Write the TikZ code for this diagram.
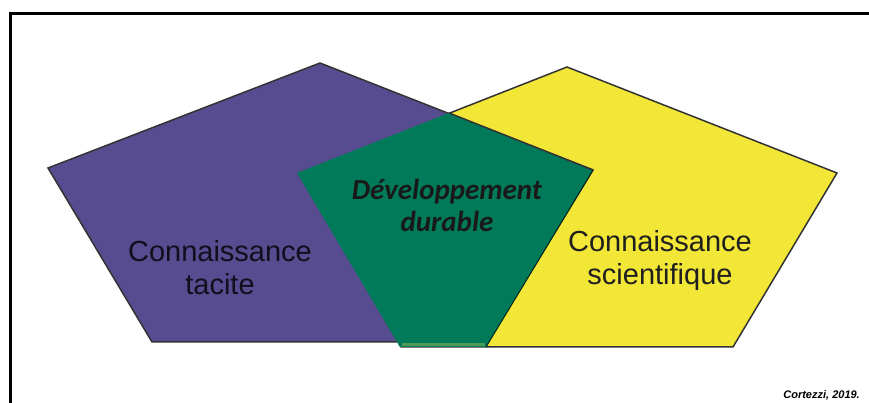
\documentclass[tikz,border=0pt]{standalone}
\usepackage{fontspec}
\setmainfont{Liberation Sans}
\newfontfamily\calib{Carlito}
\definecolor{purp}{HTML}{574C8F}
\definecolor{yell}{HTML}{F2E637}
\definecolor{gree}{HTML}{007A59}
\definecolor{greestrip}{HTML}{4B9A55}
\definecolor{edgec}{HTML}{333333}
\begin{document}
\begin{tikzpicture}[x=1pt,y=1pt,
  pent/.style={draw=edgec,line width=1.5pt,line join=miter},
  biglabel/.style={align=center,font=\fontsize{29}{33}\selectfont,inner sep=0pt},
  greenlabel/.style={align=center,font=\calib\bfseries\itshape\fontsize{29}{32}\selectfont,inner sep=0pt,text=black!90}]
\useasboundingbox (0,0) rectangle (869,403);
% frame
\draw[line width=3pt,black] (10,0) -- (10,389) -- (869,389);
% coordinates (image y flipped)
\coordinate (pT) at (320,340);
\coordinate (pL) at (48,235);
\coordinate (pR) at (593,233);
\coordinate (pBL) at (152,61);
\coordinate (pBR) at (488,61);
\coordinate (yT) at (567,336);
\coordinate (yL) at (297,230);
\coordinate (yR) at (837,230);
\coordinate (yBL) at (401,56);
\coordinate (yBR) at (733,56);
\coordinate (gT) at (449,290);
\coordinate (gBR) at (486,56);
\coordinate (gBL) at (400,56);
% yellow pentagon
\filldraw[pent,fill=yell] (yT) -- (yR) -- (yBR) -- (yBL) -- (yL) -- cycle;
% purple pentagon
\filldraw[pent,fill=purp] (pT) -- (pR) -- (pBR) -- (pBL) -- (pL) -- cycle;
% green overlap
\fill[gree] (gT) -- (pR) -- (gBR) -- (gBL) -- (yL) -- cycle;
\draw[greestrip,line width=3pt] ([xshift=2pt,yshift=2pt]gBL) -- ([xshift=-1pt,yshift=2pt]gBR);
\draw[black!70!gree,line width=1pt] (pR) -- (gBR);
\draw[edgec,line width=1.5pt] (gT) -- (pR);
% labels
\node[biglabel,text=black!80!purp] (tacite) at (220,135) {Connaissance\\tacite};
\node[biglabel,text=black!88] (scient) at (660,142) {Connaissance\\scientifique};
\node[greenlabel] (dd) at (447,198) {Développement\\durable};
\node[anchor=base east,font=\bfseries\itshape\fontsize{11}{13}\selectfont,inner sep=0pt] (cite) at (860,4) {Cortezzi, 2019.};
\end{tikzpicture}
\end{document}
